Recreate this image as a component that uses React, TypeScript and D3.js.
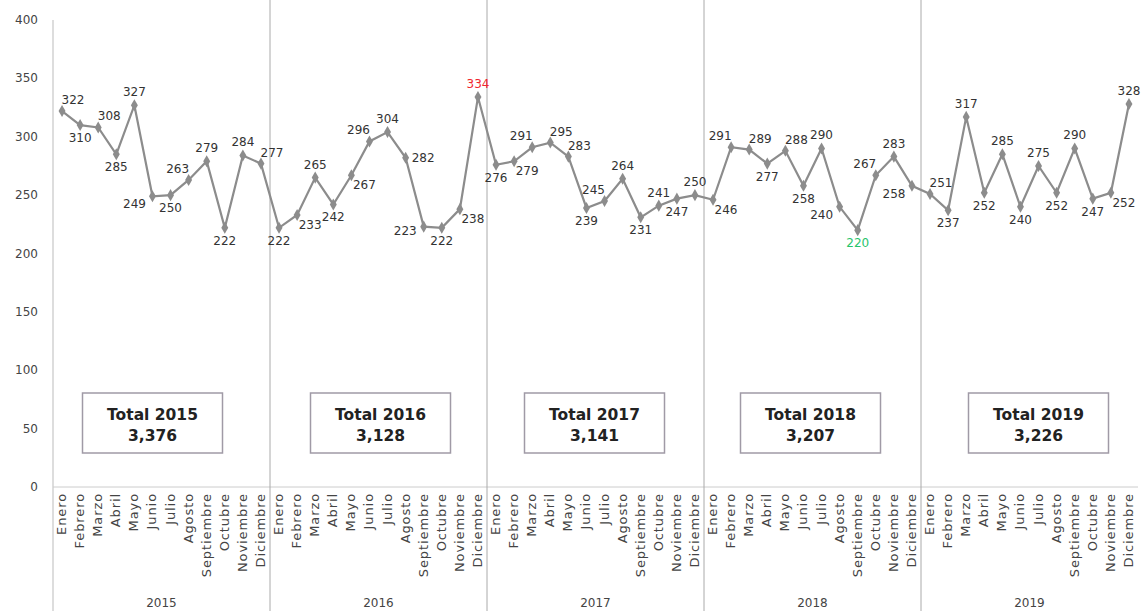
import * as d3 from "d3";
import { useEffect, useRef } from "react";

const years = ["2015", "2016", "2017", "2018", "2019"];
const months = [
  "Enero", "Febrero", "Marzo", "Abril", "Mayo", "Junio",
  "Julio", "Agosto", "Septiembre", "Octubre", "Noviembre", "Diciembre",
];
const values2015 = [322, 310, 308, 285, 327, 249, 250, 263, 279, 222, 284, 277];
const values2016 = [222, 233, 265, 242, 267, 296, 304, 282, 223, 222, 238, 334];
const values2017 = [276, 279, 291, 295, 283, 239, 245, 264, 231, 241, 247, 250];
const values2018 = [246, 291, 289, 277, 288, 258, 290, 240, 220, 267, 283, 258];
const values2019 = [251, 237, 317, 252, 285, 240, 275, 252, 290, 247, 252, 328];
const totals = ["3,376", "3,128", "3,141", "3,207", "3,226"];
const yTicks = [0, 50, 100, 150, 200, 250, 300, 350, 400];

// where each value label sits around its point
const labelSide = [
  "tr", "b", "tr", "b", "t", "bl", "b", "tl", "t", "b", "t", "tr",
  "b", "br", "t", "b", "br", "tl", "t", "r", "l", "b", "br", "t",
  "b", "br", "tl", "tr", "tr", "b", "tl", "t", "b", "t", "b", "t",
  "br", "tl", "tr", "b", "tr", "b", "t", "bl", "b", "tl", "t", "bl",
  "tr", "b", "t", "b", "t", "b", "t", "b", "t", "b", "br", "t",
];
// small horizontal nudges of the total boxes, as in the original
const boxNudge = [-9, 2, -1, -2, 9];

const W = 1141;
const H = 611;

export default function App() {
  const ref = useRef<SVGSVGElement | null>(null);

  useEffect(() => {
    const svg = d3.select(ref.current);
    svg.selectAll("*").remove();

    const series = [values2015, values2016, values2017, values2018, values2019];
    const data = series.flatMap((vals, yi) =>
      vals.map((v, mi) => ({ year: years[yi], month: months[mi], value: v, i: yi * 12 + mi })),
    );
    const maxV = d3.max(data, (d) => d.value)!;
    const minV = d3.min(data, (d) => d.value)!;

    const left = 53;
    const right = 1138;
    const top = 20;
    const bottom = 487;

    const x = d3
      .scaleBand<number>()
      .domain(data.map((d) => d.i))
      .range([left, right]);
    const y = d3.scaleLinear().domain([0, 400]).range([bottom, top]);
    const cx = (i: number) => x(i)! + x.bandwidth() / 2;
    const yearW = x.bandwidth() * 12;

    const font = "'DejaVu Sans', sans-serif";

    // y axis labels
    svg
      .append("g")
      .selectAll("text")
      .data(yTicks)
      .enter()
      .append("text")
      .attr("x", 38)
      .attr("y", (d) => y(d) + 4)
      .attr("text-anchor", "end")
      .style("font-family", font)
      .style("font-size", "12px")
      .style("fill", "#444")
      .text((d) => d);

    // left axis + x axis line
    svg
      .append("line")
      .attr("x1", left)
      .attr("x2", left)
      .attr("y1", top)
      .attr("y2", H)
      .style("stroke", "#bbb");
    svg
      .append("line")
      .attr("x1", left)
      .attr("x2", right)
      .attr("y1", bottom)
      .attr("y2", bottom)
      .style("stroke", "#ccc");

    // year dividers
    svg
      .append("g")
      .selectAll("line")
      .data(years.slice(1))
      .enter()
      .append("line")
      .attr("x1", (_, k) => left + yearW * (k + 1))
      .attr("x2", (_, k) => left + yearW * (k + 1))
      .attr("y1", 0)
      .attr("y2", H)
      .style("stroke", "#aaa");

    // month labels
    svg
      .append("g")
      .selectAll("text")
      .data(data)
      .enter()
      .append("text")
      .attr("transform", (d) => `translate(${cx(d.i) + 4}, ${bottom + 6}) rotate(-90)`)
      .attr("text-anchor", "end")
      .style("font-family", font)
      .style("font-size", "13px")
      .style("letter-spacing", "0.9px")
      .style("fill", "#444")
      .text((d) => d.month);

    // year labels
    svg
      .append("g")
      .selectAll("text")
      .data(years)
      .enter()
      .append("text")
      .attr("x", (_, k) => left + yearW * k + yearW / 2)
      .attr("y", 607)
      .attr("text-anchor", "middle")
      .style("font-family", font)
      .style("font-size", "12px")
      .style("fill", "#444")
      .text((d) => d);

    // total boxes
    const boxes = svg
      .append("g")
      .selectAll("g")
      .data(years)
      .enter()
      .append("g")
      .attr(
        "transform",
        (_, k) => `translate(${left + yearW * k + yearW / 2 + boxNudge[k]}, 0)`,
      );
    boxes
      .append("rect")
      .attr("x", -70)
      .attr("y", 393)
      .attr("width", 140)
      .attr("height", 60)
      .style("fill", "#fff")
      .style("stroke", "#a09aa6")
      .style("stroke-width", 1.5);
    boxes
      .append("text")
      .attr("y", 420)
      .attr("text-anchor", "middle")
      .style("font-family", font)
      .style("font-size", "15.5px")
      .style("font-weight", "bold")
      .style("fill", "#222")
      .text((d) => `Total ${d}`);
    boxes
      .append("text")
      .attr("y", 441)
      .attr("text-anchor", "middle")
      .style("font-family", font)
      .style("font-size", "15.5px")
      .style("font-weight", "bold")
      .style("fill", "#222")
      .text((_, k) => totals[k]);

    // line
    const line = d3
      .line<(typeof data)[number]>()
      .x((d) => cx(d.i))
      .y((d) => y(d.value));
    svg
      .append("path")
      .datum(data)
      .attr("d", line)
      .style("fill", "none")
      .style("stroke", "#8c8c8c")
      .style("stroke-width", 2.2);

    svg
      .append("g")
      .selectAll("path")
      .data(data)
      .enter()
      .append("path")
      .attr("d", d3.symbol().type(d3.symbolDiamond).size(42))
      .attr("transform", (d) => `translate(${cx(d.i)}, ${y(d.value)})`)
      .style("fill", "#8c8c8c");

    // value labels
    const off: Record<string, [number, number, string]> = {
      t: [0, -9, "middle"],
      b: [0, 17, "middle"],
      l: [-7, 8, "end"],
      r: [6, 4, "start"],
      tl: [-11, -7, "middle"],
      tr: [11, -7, "middle"],
      bl: [-18, 12, "middle"],
      br: [13, 14, "middle"],
    };
    svg
      .append("g")
      .selectAll("text")
      .data(data)
      .enter()
      .append("text")
      .attr("x", (d) => cx(d.i) + off[labelSide[d.i]][0])
      .attr("y", (d) => y(d.value) + off[labelSide[d.i]][1])
      .attr("text-anchor", (d) => off[labelSide[d.i]][2])
      .style("font-family", font)
      .style("font-size", "12px")
      .style("fill", (d) =>
        d.value === maxV ? "#f0262e" : d.value === minV ? "#27c46c" : "#333",
      )
      .text((d) => d.value);
  }, []);

  return (
    <svg
      ref={ref}
      width={W}
      height={H}
      style={{ position: "absolute", left: 0, top: 0, background: "#fff" }}
    ></svg>
  );
}
